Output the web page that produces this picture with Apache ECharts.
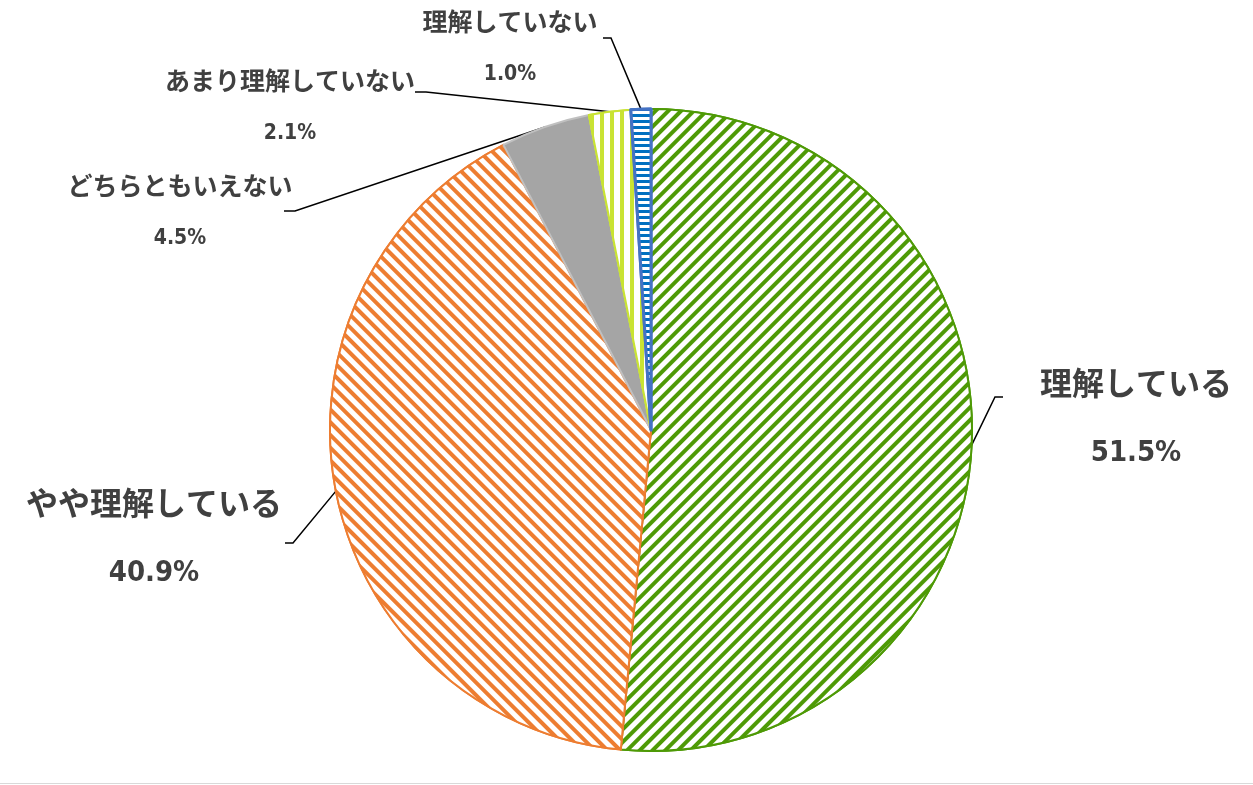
<!DOCTYPE html>
<html>
<head>
<meta charset="utf-8">
<script src="https://cdn.jsdelivr.net/npm/echarts@6/dist/echarts.min.js"></script>
<style>
  html, body { margin: 0; padding: 0; background: #fff; }
  #chart { width: 1253px; height: 783px; border-bottom: 1px solid #d9d9d9; }
</style>
</head>
<body>
<div id="chart"></div>
<script>
// data
var names = ['理解している', 'やや理解している', 'どちらともいえない', 'あまり理解していない', '理解していない'];
var values = [51.5, 40.9, 4.5, 2.1, 1.0];

// label placement (px) : centre of label block, bend and end of leader line
var labelPos = [
  { x: 1136, y: 418, bend: [995, 397], end: [1003, 397], big: true },
  { x: 154, y: 538, bend: [293, 543], end: [285, 543], big: true },
  { x: 180, y: 212, bend: [295, 211], end: [284, 211], big: false },
  { x: 290, y: 107, bend: [426, 92], end: [415, 92], big: false },
  { x: 510, y: 48, bend: [611, 38], end: [603, 38], big: false }
];

var ink = '#404040';
var green = '#4E9A06', orange = '#ED7D31', gray = '#A5A5A5', lime = '#C9E333', blue = '#0070C0';
var numFont = '"Liberation Sans Narrow", "DejaVu Sans Condensed", "Roboto Condensed", Roboto, sans-serif';
var jpFont = '"Noto Sans CJK JP", sans-serif';

function stripes(col, dx, dy, rot) {
  return { symbol: 'rect', symbolSize: 1, color: col, backgroundColor: '#fff',
           dashArrayX: dx, dashArrayY: dy, rotation: rot };
}

var styles = [
  { color: '#fff', borderColor: green, borderWidth: 2, decal: stripes(green, [1, 0], [4, 5], -Math.PI / 4) },
  { color: '#fff', borderColor: orange, borderWidth: 2, decal: stripes(orange, [1, 0], [4, 5], Math.PI / 4) },
  { color: gray, borderColor: '#C0C0C0', borderWidth: 2 },
  { color: '#fff', borderColor: lime, borderWidth: 2, decal: stripes(lime, [4, 6], [1, 0], 0) },
  { color: '#fff', borderColor: '#4472C4', borderWidth: 3, decal: stripes(blue, [1, 0], [3, 3], 0) }
];

var chart = echarts.init(document.getElementById('chart'), null, { renderer: 'canvas' });
chart.setOption({
  animation: false,
  series: [{
    type: 'pie',
    center: [651, 430],
    radius: 321,
    startAngle: 90,
    clockwise: true,
    avoidLabelOverlap: false,
    emphasis: { disabled: true },
    data: names.map(function (n, i) {
      return { name: n, value: values[i], itemStyle: styles[i] };
    }),
    label: {
      show: true,
      position: 'outside',
      color: ink,
      formatter: function (p) {
        var k = labelPos[p.dataIndex].big ? 'b' : 's';
        return '{n' + k + '|' + p.name + '}\n{p' + k + '|' + p.value.toFixed(1) + '%}';
      },
      rich: {
        nb: { fontFamily: jpFont, fontWeight: 'bold', fontSize: 32, color: ink, lineHeight: 70, align: 'center' },
        pb: { fontFamily: numFont, fontWeight: 'bold', fontSize: 29, color: ink, lineHeight: 70, align: 'center' },
        ns: { fontFamily: jpFont, fontWeight: 'bold', fontSize: 25, color: ink, lineHeight: 53, align: 'center' },
        ps: { fontFamily: numFont, fontWeight: 'bold', fontSize: 21, color: ink, lineHeight: 53, align: 'center' }
      }
    },
    labelLine: { show: true, length: 20, length2: 10, lineStyle: { color: '#000', width: 1.5 } },
    labelLayout: function (p) {
      var L = labelPos[p.dataIndex];
      var e = p.labelLinePoints ? p.labelLinePoints[0] : L.bend;
      return {
        x: L.x, y: L.y, align: 'center', verticalAlign: 'middle',
        labelLinePoints: [e, L.bend, L.end]
      };
    }
  }]
});
</script>
</body>
</html>
